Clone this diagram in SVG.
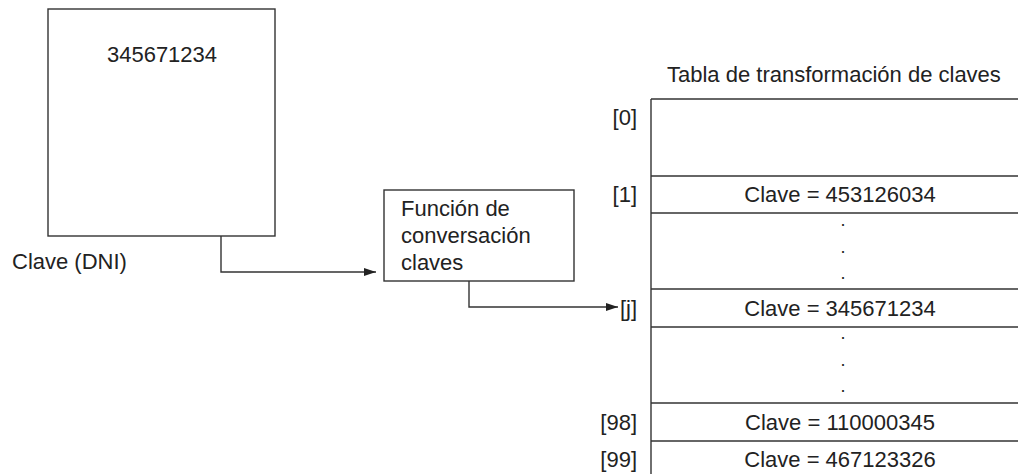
<svg xmlns="http://www.w3.org/2000/svg" width="1018" height="474" viewBox="0 0 1018 474">
  <style>
    text { font-family: "Liberation Sans", Arial, sans-serif; font-size: 22px; fill: #222; }
    .box { fill: #fff; stroke: #333; stroke-width: 1.4; }
    .line { fill: none; stroke: #333; stroke-width: 1.4; }
    .mid { text-anchor: middle; }
    .idx { text-anchor: end; }
    .dot { text-anchor: middle; font-size: 18px; }
  </style>
  <defs>
    <marker id="arrow" viewBox="0 0 12 8" refX="12" refY="4" markerWidth="12" markerHeight="8" markerUnits="userSpaceOnUse" orient="auto">
      <path d="M0,0 L12,4 L0,8 Z" fill="#222"/>
    </marker>
  </defs>
  <rect width="1018" height="474" fill="#fff"/>

  <!-- key record -->
  <g id="clave">
    <rect class="box" x="48" y="9" width="227" height="227"/>
    <text class="mid" x="162" y="62">345671234</text>
    <text x="12" y="269">Clave (DNI)</text>
  </g>

  <!-- hash function -->
  <g id="funcion">
    <rect class="box" x="384" y="190" width="190" height="91"/>
    <text x="401" y="216">Función de</text>
    <text x="401" y="243">conversación</text>
    <text x="401" y="270">claves</text>
  </g>

  <!-- hash table -->
  <g id="tabla">
    <text x="667" y="82">Tabla de transformación de claves</text>
    <line class="line" x1="651" y1="99" x2="651" y2="474"/>
    <line class="line" x1="651" y1="99" x2="1018" y2="99"/>
    <line class="line" x1="651" y1="176" x2="1018" y2="176"/>
    <line class="line" x1="651" y1="213" x2="1018" y2="213"/>
    <line class="line" x1="651" y1="289" x2="1018" y2="289"/>
    <line class="line" x1="651" y1="327" x2="1018" y2="327"/>
    <line class="line" x1="651" y1="403" x2="1018" y2="403"/>
    <line class="line" x1="651" y1="441" x2="1018" y2="441"/>

    <text class="idx" x="637" y="125">[0]</text>
    <text class="idx" x="637" y="202">[1]</text>
    <text class="mid" x="840" y="202">Clave = 453126034</text>
    <text class="dot" x="843" y="226">.</text>
    <text class="dot" x="843" y="253">.</text>
    <text class="dot" x="843" y="279">.</text>
    <text class="idx" x="637" y="316">[j]</text>
    <text class="mid" x="840" y="316">Clave = 345671234</text>
    <text class="dot" x="843" y="339">.</text>
    <text class="dot" x="843" y="366">.</text>
    <text class="dot" x="843" y="392">.</text>
    <text class="idx" x="637" y="430">[98]</text>
    <text class="mid" x="840" y="430">Clave = 110000345</text>
    <text class="idx" x="637" y="467">[99]</text>
    <text class="mid" x="840" y="467">Clave = 467123326</text>
  </g>

  <!-- connectors -->
  <g id="conectores">
    <path class="line" d="M221,236 V272 H376" marker-end="url(#arrow)"/>
    <path class="line" d="M469,281 V307 H618" marker-end="url(#arrow)"/>
  </g>
</svg>
